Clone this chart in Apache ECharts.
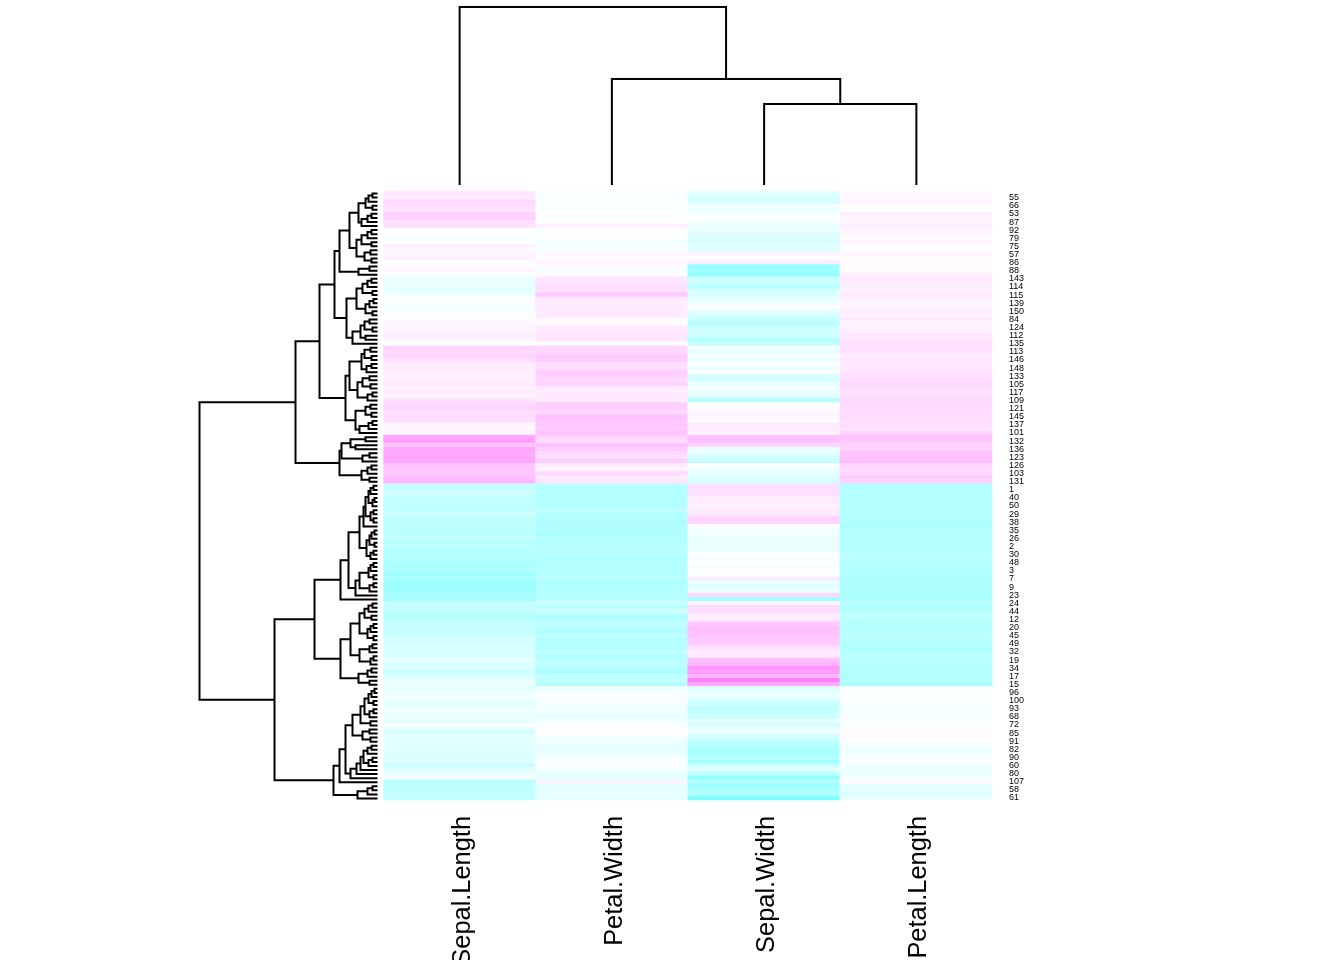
<!DOCTYPE html>
<html>
<head>
<meta charset="utf-8">
<title>Heatmap</title>
<style>
  html, body { margin: 0; padding: 0; background: #fff; overflow: hidden; }
  #chart { width: 1344px; height: 960px; }
</style>
</head>
<body>
<div id="chart"></div>
<script src="https://cdn.jsdelivr.net/npm/echarts@6/dist/echarts.min.js"></script>
<script>
(function () {
  'use strict';

  const columnNames = ['Sepal.Length', 'Petal.Width', 'Sepal.Width', 'Petal.Length'];

  // only every second row carries a label, starting at the second one
  const rowLabels = [
    '55','66','53','87','92','79','75','57','86','88','143','114','115','139','150','84','124','112','135',
    '113','146','148','133','105','117','109','121','145','137','101','132','136','123','126','103','131',
    '1','40','50','29','38','35','26','2','30','48','3','7','9','23','24','44','12','20','45','49','32','19','34','17','15',
    '96','100','93','68','72','85','91','82','90','60','80','107','58','61'
  ];

  // per-row measurements, top row first
  const sepalLength = [
    6.6,6.5,6.8,6.7,6.6,6.9,7.0,6.7,6.7,6.1, 6.1,6.0,6.1,6.4,6.2,6.3,6.4,6.0,6.2,6.3,
    6.0,5.8,5.8,5.7,5.6,5.8,6.1,6.0,5.9,5.9, 6.2,6.0,6.3,6.3,6.3,6.4,6.3,6.1,6.9,6.8,
    6.9,6.7,6.5,6.5,6.4,6.4,6.4,6.5,6.4,6.5, 6.3,6.7,6.8,6.9,6.7,6.7,6.7,6.3,6.2,6.3,
    7.7,7.9,7.2,7.7,7.6,7.7,7.7,7.2,7.2,7.1, 7.3,7.4,5.1,5.1,5.2,5.1,5.0,5.0,5.0,5.2,
    5.0,4.9,5.0,4.9,4.9,5.0,4.8,4.9,4.8,4.7, 4.8,4.6,4.6,4.7,4.4,4.6,4.3,4.4,4.4,4.6,
    4.5,5.1,5.0,5.0,4.8,4.8,5.1,5.1,5.1,5.1, 5.4,5.3,5.5,5.4,5.4,5.7,5.4,5.5,5.2,5.4,
    5.7,5.8,5.7,5.7,5.9,5.7,5.6,5.8,5.8,5.8, 5.6,6.1,5.6,5.4,5.7,5.5,5.6,5.5,5.5,5.5,
    5.5,5.2,5.6,5.7,6.0,4.9,5.0,4.9,5.1,5.0
  ];
  const sepalWidth = [
    2.9,2.8,2.8,3.1,3.0,3.1,3.2,3.1,3.0,3.0, 2.9,2.9,2.8,2.9,2.9,3.3,3.2,3.4,2.2,2.3,
    2.2,2.7,2.7,2.5,2.8,2.8,3.0,3.0,3.2,3.0, 2.8,2.7,2.5,2.7,2.8,2.7,2.5,2.6,3.1,3.0,
    3.1,3.0,3.2,3.0,3.2,2.8,2.8,3.0,3.1,3.0, 2.9,2.5,3.2,3.2,3.3,3.3,3.1,3.4,3.4,3.3,
    3.8,3.8,3.6,3.0,3.0,2.8,2.6,3.2,3.0,3.0, 2.9,2.8,3.5,3.5,3.5,3.4,3.4,3.3,3.4,3.4,
    3.6,3.6,3.2,3.1,3.1,3.0,3.0,3.0,3.0,3.2, 3.1,3.2,3.1,3.2,3.2,3.4,3.0,2.9,3.0,3.6,
    2.3,3.3,3.5,3.5,3.4,3.4,3.7,3.8,3.8,3.8, 3.7,3.7,3.5,3.4,3.4,3.8,3.9,4.2,4.1,3.9,
    4.4,4.0,2.9,3.0,3.0,2.8,2.7,2.6,2.7,2.7, 3.0,2.8,3.0,3.0,2.8,2.6,2.5,2.4,2.4,2.5,
    2.3,2.7,2.9,2.6,2.2,2.5,2.3,2.4,2.5,2.0
  ];
  const petalLength = [
    4.6,4.6,4.8,4.4,4.4,4.9,4.7,4.7,5.0,4.6, 4.7,4.5,4.7,4.3,4.3,4.7,4.5,4.5,4.5,4.4,
    5.0,5.1,5.1,5.0,4.9,5.1,4.9,4.8,4.8,5.1, 4.8,5.1,4.9,4.9,5.0,5.3,5.3,5.6,5.4,5.5,
    5.1,5.2,5.1,5.2,5.3,5.6,5.6,5.8,5.5,5.5, 5.6,5.8,5.9,5.7,5.7,5.7,5.6,5.6,5.4,6.0,
    6.7,6.4,6.1,6.1,6.6,6.7,6.9,6.0,5.8,5.9, 6.3,6.1,1.4,1.4,1.5,1.5,1.5,1.4,1.6,1.4,
    1.4,1.4,1.2,1.5,1.5,1.6,1.4,1.4,1.4,1.6, 1.6,1.4,1.5,1.3,1.3,1.4,1.1,1.4,1.3,1.0,
    1.3,1.7,1.3,1.6,1.9,1.6,1.5,1.5,1.6,1.9, 1.5,1.5,1.3,1.5,1.7,1.7,1.7,1.4,1.5,1.3,
    1.5,1.2,4.2,4.2,4.2,4.1,4.2,4.0,3.9,4.1, 4.1,4.0,4.5,4.5,4.5,4.4,3.9,3.7,3.8,4.0,
    4.0,3.9,3.6,3.5,4.0,4.5,3.3,3.3,3.0,3.5
  ];
  const petalWidth = [
    1.3,1.5,1.4,1.4,1.4,1.5,1.4,1.5,1.7,1.4, 1.4,1.5,1.2,1.3,1.3,1.6,1.5,1.6,1.5,1.3,
    1.5,1.9,1.9,2.0,2.0,2.4,1.8,1.8,1.8,1.8, 1.8,1.6,1.5,1.8,1.8,1.9,1.9,1.4,2.1,2.1,
    2.3,2.3,2.0,2.0,2.3,2.2,2.1,2.2,1.8,1.8, 1.8,1.8,2.3,2.3,2.1,2.5,2.4,2.4,2.3,2.5,
    2.2,2.0,2.5,2.3,2.1,2.0,2.3,1.8,1.6,2.1, 1.8,1.9,0.3,0.2,0.2,0.2,0.2,0.2,0.4,0.2,
    0.2,0.1,0.2,0.2,0.1,0.2,0.1,0.2,0.3,0.2, 0.2,0.2,0.2,0.2,0.2,0.3,0.1,0.2,0.2,0.2,
    0.3,0.5,0.3,0.6,0.2,0.2,0.4,0.3,0.2,0.4, 0.2,0.2,0.2,0.4,0.2,0.3,0.4,0.2,0.1,0.4,
    0.4,0.2,1.3,1.2,1.5,1.3,1.3,1.2,1.2,1.0, 1.3,1.3,1.5,1.5,1.3,1.2,1.1,1.0,1.1,1.3,
    1.3,1.4,1.3,1.0,1.0,1.7,1.0,1.0,1.1,1.0
  ];

  // dendrograms as nested [height, childA, childB]; 0 is a leaf, leaves run in display order
  const columnTree = [178, 0, [106, 0, [81, 0, 0]]];

  const rowTree = [178,
    [82,
      [58,
        [43,
          [38,
            [28,
              [19, [12, [9, [5, 0, 0], 0], [5, 0, 0]], [16, [10, [6, 0, 0], 0], 0]],
              [21, [16, [10, [6, 0, 0], 0], [6, 0, 0]], [13, [7, 0, 0], [6, 0, 0]]]
            ],
            [19, [8, 0, 0], 0]
          ],
          [31,
            [21, [15, [10, [6, 0, 0], 0], [5, 0, 0]], [12, [8, [4, 0, 0], 0], [5, 0, 0]]],
            [25, [17, [13, [8, 0, 0], [5, 0, 0]], [12, 0, 0]], 0]
          ]
        ],
        [32,
          [28,
            [16, [13, [7, 0, 0], [6, 0, 0]], [11, [6, 0, 0], 0]],
            [20, [15, [8, 0, 0], [7, 0, 0]], [10, [5, 0, 0], 0]]
          ],
          [22, [12, [7, 0, 0], [6, 0, 0]], [18, [9, [5, 0, 0], 0], 0]]
        ]
      ],
      [38,
        [36, [27, [12, 0, 0], [22, 0, 0]], [15, [8, 0, 0], 0]],
        [16, [10, [6, 0, 0], 0], [8, 0, 0]]
      ]
    ],
    [103,
      [63,
        [37,
          [29,
            [18,
              [14, [12, [9, [7, [4, 0, 0], 0], [5, [3, 0, 0], 0]], [7, [4, 0, 0], [4, 0, 0]]], 0],
              [11, [8, [6, [3, 0, 0], 0], [3, 0, 0]], [7, [4, 0, 0], 0]]
            ],
            [22, [18, [9, [7, [4, 0, 0], 0], [4, 0, 0]], [8, [4, 0, 0], 0]], 0]
          ],
          0
        ],
        [37,
          [27,
            [18, [13, [9, [5, 0, 0], 0], [6, 0, 0]], [10, [7, [4, 0, 0], 0], [4, 0, 0]]],
            [18, [8, [5, 0, 0], 0], [7, [4, 0, 0], 0]]
          ],
          [19, [10, [6, 0, 0], 0], [8, 0, 0]]
        ]
      ],
      [44,
        [38,
          [32,
            [25,
              [17, [13, [9, [6, [3, 0, 0], 0], [4, 0, 0]], [8, [4, 0, 0], 0]], [7, 0, 0]],
              [15, [8, 0, 0], [7, 0, 0]]
            ],
            [27, [21, [17, [14, [10, [6, 0, 0], 0], [9, [5, 0, 0], 0]], 0], 0], 0]
          ],
          0
        ],
        [20, [10, [5, 0, 0], 0], 0]
      ]
    ]
  ];

  const rowCount = sepalLength.length;

  function zScores(values) {
    const mean = values.reduce((a, b) => a + b, 0) / values.length;
    const variance = values.reduce((a, b) => a + (b - mean) * (b - mean), 0) / (values.length - 1);
    return values.map(v => (v - mean) / Math.sqrt(variance));
  }

  const columns = [sepalLength, petalWidth, sepalWidth, petalLength].map(zScores);

  const cells = [];
  columns.forEach((col, c) => col.forEach((z, r) => cells.push([c, r, z])));
  const allZ = cells.map(d => d[2]);

  // odd rows get the labels
  const rowCategories = [];
  for (let i = 0; i < rowCount; i++) rowCategories.push(i % 2 ? rowLabels[(i - 1) / 2] : '');

  // walks a nested tree, returns one bracket per merge: [posA, heightA, posB, heightB, height]
  function treeBrackets(tree) {
    const out = [];
    let next = 0;
    function walk(node) {
      if (node === 0) { next += 1; return { pos: next - 0.5, h: 0 }; }
      const a = walk(node[1]);
      const b = walk(node[2]);
      out.push([a.pos, a.h, b.pos, b.h, node[0]]);
      return { pos: (a.pos + b.pos) / 2, h: node[0] };
    }
    walk(tree);
    return out;
  }

  function bracketRenderer(horizontal) {
    return function (params, api) {
      const pt = (pos, h) => api.coord(horizontal ? [h, pos] : [pos, h]);
      const points = [
        pt(api.value(0), api.value(1)),
        pt(api.value(0), api.value(4)),
        pt(api.value(2), api.value(4)),
        pt(api.value(2), api.value(3))
      ];
      return {
        type: 'polyline',
        shape: { points: points },
        style: { stroke: '#000', fill: null, lineWidth: 2, lineJoin: 'miter', lineCap: 'butt' },
        silent: true
      };
    };
  }

  const chart = echarts.init(document.getElementById('chart'), null, { renderer: 'canvas' });

  chart.setOption({
    animation: false,
    backgroundColor: '#fff',
    textStyle: { fontFamily: '"Liberation Sans", Arial, sans-serif' },
    grid: [
      // the long column labels run off the page, the grid must not shrink for them
      { left: 383.6, top: 191.6, width: 608.4, height: 608.4, outerBoundsMode: 'none' },
      { left: 383.5, top: 7, width: 609, height: 178, outerBoundsMode: 'none' },
      { left: 199.5, top: 191.5, width: 178, height: 609, outerBoundsMode: 'none' }
    ],
    xAxis: [
      {
        type: 'category', gridIndex: 0, data: columnNames,
        axisLine: { show: false }, axisTick: { show: false }, splitLine: { show: false },
        axisLabel: { rotate: 90, fontSize: 25.4, color: '#000', margin: 16, interval: 0, verticalAlign: 'top', lineHeight: 6 }
      },
      { type: 'value', gridIndex: 1, min: 0, max: columnNames.length, show: false },
      { type: 'value', gridIndex: 2, min: 0, max: 178, inverse: true, show: false }
    ],
    yAxis: [
      {
        type: 'category', gridIndex: 0, data: rowCategories, inverse: true, position: 'right',
        axisLine: { show: false }, axisTick: { show: false }, splitLine: { show: false },
        axisLabel: { fontSize: 9, color: '#000', margin: 17, interval: 0, hideOverlap: false, padding: [5, 0, 0, 0] }
      },
      { type: 'value', gridIndex: 1, min: 0, max: 178, show: false },
      { type: 'value', gridIndex: 2, min: 0, max: rowCount, inverse: true, show: false }
    ],
    visualMap: {
      show: false,
      seriesIndex: 0,
      dimension: 2,
      min: Math.min.apply(null, allZ),
      max: Math.max.apply(null, allZ),
      inRange: { color: ['#80FFFF', '#FFFFFF', '#FF80FF'] }
    },
    series: [
      {
        type: 'heatmap', xAxisIndex: 0, yAxisIndex: 0, data: cells,
        itemStyle: { borderWidth: 0 }, progressive: 0, silent: true
      },
      {
        type: 'custom', xAxisIndex: 1, yAxisIndex: 1, coordinateSystem: 'cartesian2d',
        data: treeBrackets(columnTree), renderItem: bracketRenderer(false), clip: false, silent: true
      },
      {
        type: 'custom', xAxisIndex: 2, yAxisIndex: 2, coordinateSystem: 'cartesian2d',
        data: treeBrackets(rowTree), renderItem: bracketRenderer(true), clip: false, silent: true
      }
    ]
  });
})();
</script>
</body>
</html>
